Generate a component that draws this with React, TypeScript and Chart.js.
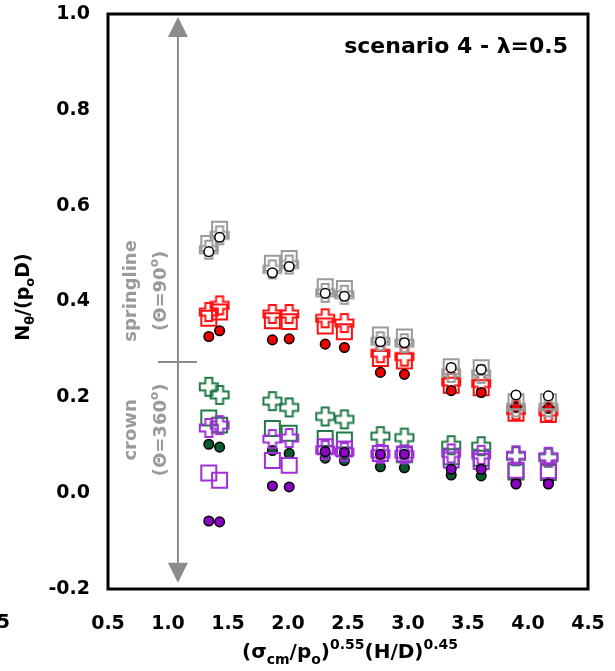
import React, { useEffect, useRef } from 'react';
import { Chart, registerables } from 'chart.js';

Chart.register(...registerables);

// ---- data ----
const xValues = [1.34, 1.43, 1.87, 2.01, 2.31, 2.47, 2.77, 2.97, 3.36, 3.61, 3.9, 4.17];

const springCircleWhite = [0.504, 0.534, 0.46, 0.473, 0.417, 0.411, 0.316, 0.314, 0.262, 0.258, 0.205, 0.203];
const springSquareGray = [0.521, 0.551, 0.48, 0.49, 0.431, 0.427, 0.33, 0.326, 0.264, 0.262, 0.191, 0.191];
const springPlusGray = [0.508, 0.538, 0.467, 0.477, 0.418, 0.414, 0.317, 0.313, 0.251, 0.249, 0.179, 0.179];

const springCircleRed = [0.327, 0.339, 0.32, 0.322, 0.311, 0.304, 0.252, 0.248, 0.214, 0.21, 0.179, 0.177];
const springSquareRed = [0.365, 0.378, 0.36, 0.358, 0.349, 0.337, 0.281, 0.276, 0.225, 0.22, 0.167, 0.164];
const springPlusRed = [0.378, 0.392, 0.374, 0.374, 0.365, 0.355, 0.292, 0.285, 0.232, 0.229, 0.173, 0.17];

const crownCircleGreen = [0.102, 0.096, 0.089, 0.083, 0.073, 0.068, 0.055, 0.053, 0.038, 0.036, 0.022, 0.022];
const crownSquareGreen = [0.157, 0.142, 0.135, 0.125, 0.114, 0.111, 0.083, 0.08, 0.076, 0.073, 0.044, 0.043];
const crownPlusGreen = [0.222, 0.205, 0.192, 0.179, 0.16, 0.154, 0.119, 0.116, 0.1, 0.098, 0.077, 0.074];

const crownCirclePurple = [-0.058, -0.06, 0.015, 0.013, 0.087, 0.085, 0.081, 0.081, 0.05, 0.05, 0.019, 0.019];
const crownSquarePurple = [0.042, 0.027, 0.068, 0.058, 0.097, 0.092, 0.083, 0.082, 0.069, 0.066, 0.048, 0.047];
const crownPlusPurple = [0.136, 0.142, 0.113, 0.115, 0.09, 0.086, 0.082, 0.081, 0.083, 0.08, 0.079, 0.076];

const xTickValues = [0.5, 1.0, 1.5, 2.0, 2.5, 3.0, 3.5, 4.0, 4.5];
const yTickValues = [-0.2, 0.0, 0.2, 0.4, 0.6, 0.8, 1.0];

// annotation (arrow) in data units
const arrowX = [1.083];
const arrowY = [0.994, -0.187];
const dividerY = [0.274];
const dividerX = [0.917, 1.242];
const labelXs = [0.683, 0.933];
const labelYs = [0.422, 0.132];

const chartTitle = 'scenario 4 - λ=0.5';

const FONT = '"DejaVu Sans", Verdana, sans-serif';

type Seg = { t: string; m?: 'sub' | 'sup' };

function drawRich(ctx: CanvasRenderingContext2D, segs: Seg[], cx: number, cy: number, size: number, color: string, ratio = 0.68) {
  const small = Math.round(size * ratio);
  const fontFor = (s: Seg) => `bold ${s.m ? small : size}px ${FONT}`;
  let total = 0;
  const widths = segs.map((s) => {
    ctx.font = fontFor(s);
    const w = ctx.measureText(s.t).width;
    total += w;
    return w;
  });
  let x = cx - total / 2;
  ctx.fillStyle = color;
  ctx.textAlign = 'left';
  ctx.textBaseline = 'alphabetic';
  const base = cy + size * 0.36;
  segs.forEach((s, i) => {
    ctx.font = fontFor(s);
    let yy = base;
    if (s.m === 'sub') yy = base + size * 0.28;
    if (s.m === 'sup') yy = base - size * 0.45;
    ctx.fillText(s.t, x, yy);
    x += widths[i];
  });
}

function plusImage(color: string) {
  const c = document.createElement('canvas');
  c.width = 22;
  c.height = 22;
  const g = c.getContext('2d')!;
  const m = 11;
  const a = 3.5;
  const b = 9;
  g.beginPath();
  g.moveTo(m - a, m - b);
  g.lineTo(m + a, m - b);
  g.lineTo(m + a, m - a);
  g.lineTo(m + b, m - a);
  g.lineTo(m + b, m + a);
  g.lineTo(m + a, m + a);
  g.lineTo(m + a, m + b);
  g.lineTo(m - a, m + b);
  g.lineTo(m - a, m + a);
  g.lineTo(m - b, m + a);
  g.lineTo(m - b, m - a);
  g.lineTo(m - a, m - a);
  g.closePath();
  g.strokeStyle = color;
  g.lineWidth = 2;
  g.stroke();
  return c;
}

const pts = (vals: number[]) => xValues.map((x, i) => ({ x, y: vals[i] }));

const GRAY = '#9a9a9a';
const RED = '#ff1010';
const GREEN = '#1f7a45';
const PURPLE = '#a12fd8';

const overlay = {
  id: 'overlay',
  afterDraw(chart: any) {
    const { ctx, chartArea: ca, scales } = chart;
    const xs = scales.x;
    const ys = scales.y;
    ctx.save();
    // arrow
    const ax = xs.getPixelForValue(arrowX[0]);
    const yt = ys.getPixelForValue(arrowY[0]);
    const yb = ys.getPixelForValue(arrowY[1]);
    const head = 20;
    const hw = 10;
    ctx.strokeStyle = '#8c8c8c';
    ctx.fillStyle = '#8c8c8c';
    ctx.lineWidth = 2;
    ctx.beginPath();
    ctx.moveTo(ax, yt + head);
    ctx.lineTo(ax, yb - head);
    ctx.stroke();
    ctx.beginPath();
    ctx.moveTo(ax, yt);
    ctx.lineTo(ax - hw, yt + head);
    ctx.lineTo(ax + hw, yt + head);
    ctx.closePath();
    ctx.fill();
    ctx.beginPath();
    ctx.moveTo(ax, yb);
    ctx.lineTo(ax - hw, yb - head);
    ctx.lineTo(ax + hw, yb - head);
    ctx.closePath();
    ctx.fill();
    // divider
    const dy = ys.getPixelForValue(dividerY[0]);
    ctx.beginPath();
    ctx.moveTo(xs.getPixelForValue(dividerX[0]), dy);
    ctx.lineTo(xs.getPixelForValue(dividerX[1]), dy);
    ctx.stroke();

    // rotated labels
    const txtColor = '#9a9a9a';
    const put = (segs: Seg[], xv: number, yv: number, size: number, color: string) => {
      ctx.save();
      ctx.translate(xs.getPixelForValue(xv), ys.getPixelForValue(yv));
      ctx.rotate(-Math.PI / 2);
      drawRich(ctx, segs, 0, 0, size, color);
      ctx.restore();
    };
    put([{ t: 'springline' }], labelXs[0], labelYs[0], 18, txtColor);
    put([{ t: '(Θ=90' }, { t: 'o', m: 'sup' }, { t: ')' }], labelXs[1], labelYs[0], 18, txtColor);
    put([{ t: 'crown' }], labelXs[0], labelYs[1], 18, txtColor);
    put([{ t: '(Θ=360' }, { t: 'o', m: 'sup' }, { t: ')' }], labelXs[1], labelYs[1], 18, txtColor);

    // box
    ctx.strokeStyle = '#000';
    ctx.lineWidth = 3;
    ctx.strokeRect(ca.left, ca.top, ca.right - ca.left, ca.bottom - ca.top);

    // chart title
    ctx.fillStyle = '#000';
    ctx.font = `bold 22px ${FONT}`;
    ctx.textAlign = 'right';
    ctx.textBaseline = 'middle';
    ctx.fillText(chartTitle, ca.right - 20, ca.top + 33);

    // y title
    ctx.save();
    ctx.translate(22, 297);
    ctx.rotate(-Math.PI / 2);
    drawRich(ctx, [{ t: 'N' }, { t: 'θ', m: 'sub' }, { t: '/(p' }, { t: 'o', m: 'sub' }, { t: 'D)' }], 0, 0, 19, '#000');
    ctx.restore();

    // x title
    drawRich(
      ctx,
      [
        { t: '(σ' },
        { t: 'cm', m: 'sub' },
        { t: '/p' },
        { t: 'o', m: 'sub' },
        { t: ')' },
        { t: '0.55', m: 'sup' },
        { t: '(H/D)' },
        { t: '0.45', m: 'sup' },
      ],
      350,
      651,
      20,
      '#000',
      0.72
    );

    // clipped stray tick label at far left
    ctx.fillStyle = '#000';
    ctx.font = `bold 19px ${FONT}`;
    ctx.textAlign = 'right';
    ctx.textBaseline = 'middle';
    ctx.fillText('5', 10, 623);
    ctx.restore();
  },
};

export default function App() {
  const ref = useRef<HTMLCanvasElement | null>(null);
  useEffect(() => {
    document.body.style.margin = '0';
    const canvas = ref.current!;
    const plusGray = plusImage(GRAY);
    const plusRed = plusImage(RED);
    const plusGreen = plusImage(GREEN);
    const plusPurple = plusImage(PURPLE);

    const circle = (data: number[], fill: string, label: string) => ({
      label,
      data: pts(data),
      pointStyle: 'circle',
      pointRadius: 4.8,
      pointBorderWidth: 1.5,
      pointBorderColor: '#000',
      pointBackgroundColor: fill,
      showLine: false,
    });
    const square = (data: number[], color: string, label: string) => ({
      label,
      data: pts(data),
      pointStyle: 'rect',
      pointRadius: 10.6,
      pointBorderWidth: 2,
      pointBorderColor: color,
      pointBackgroundColor: 'rgba(0,0,0,0)',
      showLine: false,
    });
    const plus = (data: number[], img: HTMLCanvasElement, label: string) => ({
      label,
      data: pts(data),
      pointStyle: img,
      pointRadius: 10,
      showLine: false,
    });

    const chart = new Chart(canvas, {
      type: 'scatter',
      data: {
        datasets: [
          circle(springCircleWhite, '#ffffff', 'springline circle (gray)'),
          plus(springPlusGray, plusGray, 'springline plus (gray)'),
          square(springSquareGray, GRAY, 'springline square (gray)'),
          circle(springCircleRed, '#ee0000', 'springline circle (red)'),
          plus(springPlusRed, plusRed, 'springline plus (red)'),
          square(springSquareRed, RED, 'springline square (red)'),
          circle(crownCirclePurple, '#8a00c4', 'crown circle (purple)'),
          plus(crownPlusPurple, plusPurple, 'crown plus (purple)'),
          square(crownSquarePurple, PURPLE, 'crown square (purple)'),
          circle(crownCircleGreen, '#0b5a2e', 'crown circle (green)'),
          plus(crownPlusGreen, plusGreen, 'crown plus (green)'),
          square(crownSquareGreen, GREEN, 'crown square (green)'),
        ] as any,
      },
      options: {
        responsive: false,
        animation: false,
        events: [],
        layout: { padding: { top: 14, right: 27, left: 0, bottom: 0 } },
        plugins: { legend: { display: false }, tooltip: { enabled: false }, title: { display: false } },
        scales: {
          x: {
            type: 'linear',
            min: xTickValues[0],
            max: xTickValues[xTickValues.length - 1],
            grid: { display: false, drawTicks: false },
            border: { display: false },
            afterBuildTicks: (s: any) => {
              s.ticks = xTickValues.map((v) => ({ value: v }));
            },
            afterFit: (s: any) => {
              s.height = 82;
              s.paddingLeft = 0;
              s.paddingRight = 0;
            },
            ticks: {
              padding: 24,
              color: '#000',
              font: { family: FONT, size: 19, weight: 'bold' },
              maxRotation: 0,
              autoSkip: false,
              callback: (v: any) => Number(v).toFixed(1),
            },
          },
          y: {
            type: 'linear',
            min: yTickValues[0],
            max: yTickValues[yTickValues.length - 1],
            grid: { display: false, drawTicks: false },
            border: { display: false },
            afterBuildTicks: (s: any) => {
              s.ticks = yTickValues.map((v) => ({ value: v }));
            },
            afterFit: (s: any) => {
              s.width = 108;
              s.paddingTop = 0;
              s.paddingBottom = 0;
            },
            ticks: {
              padding: 18,
              color: '#000',
              font: { family: FONT, size: 19, weight: 'bold' },
              autoSkip: false,
              callback: (v: any) => Number(v).toFixed(1),
            },
          },
        },
      } as any,
      plugins: [overlay],
    });
    return () => chart.destroy();
  }, []);
  return <canvas ref={ref} width={615} height={671} style={{ display: 'block', width: 615, height: 671 }} />;
}
